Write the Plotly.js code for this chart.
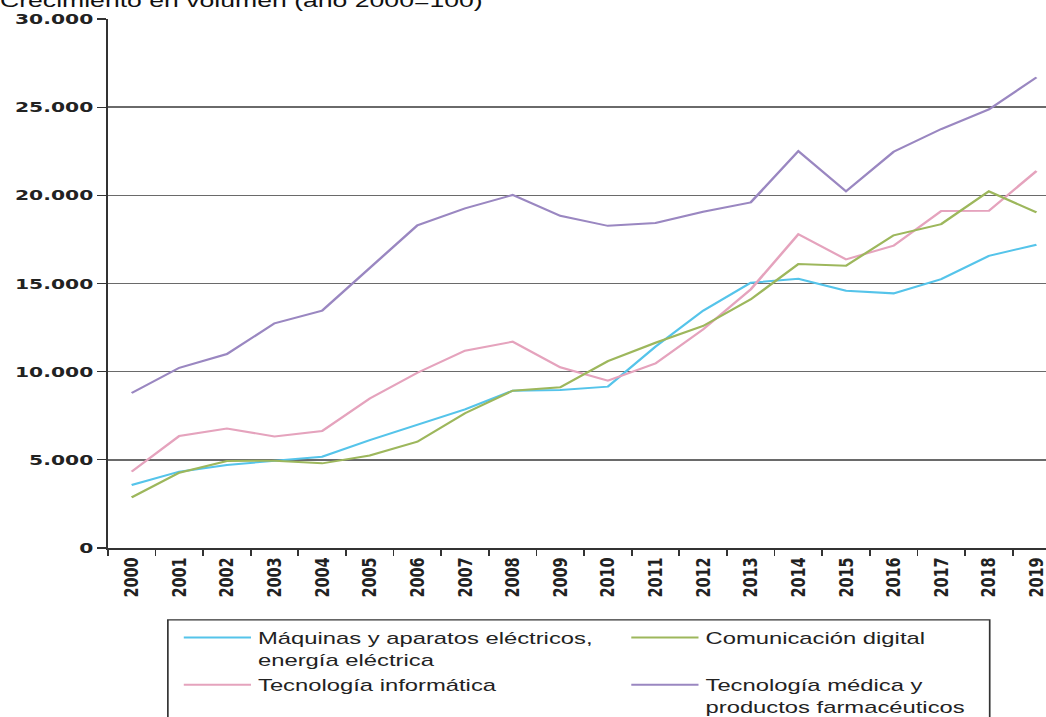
<!DOCTYPE html>
<html>
<head>
<meta charset="utf-8">
<script src="https://cdn.plot.ly/plotly-3.0.1.min.js"></script>
<style>
  html, body { margin: 0; padding: 0; background: #fff; overflow: hidden; }
  #wrap { width: 1046px; height: 717px; overflow: hidden; }
  #chart { width: 747px; height: 717px; transform: scaleX(1.40027); transform-origin: 0 0; }
</style>
</head>
<body>
<div id="wrap"><div id="chart"></div></div>
<script>
const years = ['2000','2001','2002','2003','2004','2005','2006','2007','2008','2009',
               '2010','2011','2012','2013','2014','2015','2016','2017','2018','2019'];

const maquinas = [3570, 4330, 4710, 4930, 5180, 6120, 6970, 7860, 8920, 8960,
                  9150, 11420, 13460, 15040, 15270, 14590, 14440, 15250, 16570, 17200];
const comunicacion = [2870, 4270, 4930, 4950, 4800, 5250, 6030, 7640, 8920, 9110,
                      10600, 11640, 12590, 14100, 16100, 16010, 17730, 18370, 20230, 19030];
const informatica = [4330, 6350, 6770, 6330, 6630, 8480, 9940, 11190, 11700, 10250,
                     9490, 10470, 12400, 14670, 17790, 16370, 17140, 19110, 19120, 21380];
const medica = [8790, 10220, 11000, 12740, 13460, 15880, 18300, 19260, 20020, 18840,
                18270, 18430, 19070, 19600, 22510, 20230, 22470, 23760, 24870, 26690];

const names = {
  maquinas: 'Máquinas y aparatos eléctricos,<br>energía eléctrica',
  comunicacion: 'Comunicación digital',
  informatica: 'Tecnología informática',
  medica: 'Tecnología médica y<br>productos farmacéuticos'
};
const titleText = 'Crecimiento en volumen (año 2000=100)';

const colors = { maquinas: '#55c4ea', comunicacion: '#9db75c', informatica: '#e5a3bd', medica: '#9a87c1' };

const traces = [
  { x: years, y: maquinas, name: names.maquinas, legend: 'legend', type: 'scatter', mode: 'lines',
    line: { color: colors.maquinas, width: 2 } },
  { x: years, y: informatica, name: names.informatica, legend: 'legend', type: 'scatter', mode: 'lines',
    line: { color: colors.informatica, width: 2 } },
  { x: years, y: comunicacion, name: names.comunicacion, legend: 'legend2', legendgroup: 'g1', type: 'scatter', mode: 'lines',
    line: { color: colors.comunicacion, width: 2 } },
  { x: years, y: medica, name: names.medica, legend: 'legend2', legendgroup: 'g2', type: 'scatter', mode: 'lines',
    line: { color: colors.medica, width: 2 } }
];

const legFont = { family: 'Liberation Sans, Arial, sans-serif', size: 17, color: '#222' };
const tickFont = { family: 'DejaVu Sans, sans-serif', size: 14.5, color: '#222', weight: 'bold' };

const layout = {
  width: 747, height: 717,
  margin: { l: 77, r: 0, t: 19, b: 169, pad: 0 },
  paper_bgcolor: '#fff', plot_bgcolor: '#fff',
  separators: ',.',
  showlegend: true,
  title: { text: titleText, x: 0, xref: 'container', xanchor: 'left', y: 1, yref: 'container', yanchor: 'middle',
           pad: { l: 0, t: 0, r: 0, b: 0 },
           font: { family: 'Liberation Sans, Arial, sans-serif', size: 19, color: '#111' } },
  xaxis: {
    type: 'category', range: [-0.5, 19.2], tickson: 'boundaries',
    ticks: 'outside', ticklen: 6, tickwidth: 1.2, tickcolor: '#333',
    tickangle: -90, showgrid: false, zeroline: false,
    showline: true, linecolor: '#333', linewidth: 1.5,
    ticklabelstandoff: 2,
    tickfont: tickFont
  },
  yaxis: {
    range: [0, 30000], dtick: 5000, tick0: 0, tickformat: ',d',
    ticks: 'outside', ticklen: 6, tickwidth: 1.2, tickcolor: '#333',
    showgrid: true, gridcolor: '#6a6a6a', gridwidth: 1.5,
    zeroline: false, showline: true, linecolor: '#333', linewidth: 1.5,
    tickfont: tickFont
  },
  legend: {
    x: 0.0735, xanchor: 'left', y: 0.1353, yref: 'container', yanchor: 'top',
    orientation: 'v', traceorder: 'normal', tracegroupgap: 0, valign: 'top',
    itemwidth: 48, bgcolor: 'rgba(0,0,0,0)', borderwidth: 0, font: legFont
  },
  legend2: {
    x: 0.5505, xanchor: 'left', y: 0.1353, yref: 'container', yanchor: 'top',
    orientation: 'v', traceorder: 'grouped', tracegroupgap: 22, valign: 'top',
    itemwidth: 48, bgcolor: 'rgba(0,0,0,0)', borderwidth: 0, font: legFont
  },
  shapes: [
    { type: 'rect', xref: 'paper', yref: 'paper', x0: 0.064, x1: 0.940, y0: -0.136, y1: -0.40,
      line: { color: '#333', width: 1.2 }, fillcolor: 'rgba(0,0,0,0)', layer: 'below' }
  ]
};

Plotly.newPlot('chart', traces, layout, { displayModeBar: false, staticPlot: true });
</script>
</body>
</html>
